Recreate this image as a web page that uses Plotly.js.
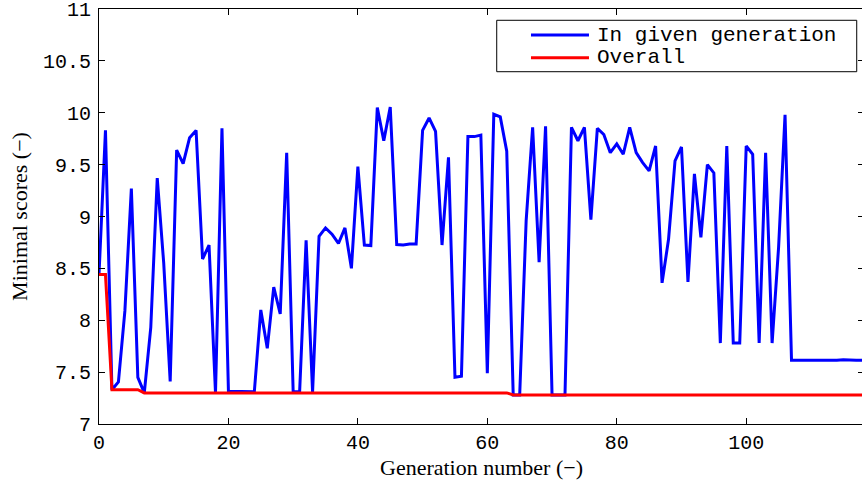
<!DOCTYPE html>
<html>
<head>
<meta charset="utf-8">
<script src="https://cdn.plot.ly/plotly-3.0.1.min.js"></script>
<style>
html, body { margin: 0; padding: 0; overflow: hidden; background: #fff; }
#chart { width: 864px; height: 483px; }
</style>
</head>
<body>
<div id="chart"></div>
<script>
// Generation numbers 0..118
const generations = [
  0,1,2,3,4,5,6,7,8,9,10,11,12,13,14,15,16,17,18,19,
  20,21,22,23,24,25,26,27,28,29,30,31,32,33,34,35,36,37,38,39,
  40,41,42,43,44,45,46,47,48,49,50,51,52,53,54,55,56,57,58,59,
  60,61,62,63,64,65,66,67,68,69,70,71,72,73,74,75,76,77,78,79,
  80,81,82,83,84,85,86,87,88,89,90,91,92,93,94,95,96,97,98,99,
  100,101,102,103,104,105,106,107,108,109,110,111,112,113,114,115,116,117,118
];

// Minimal score in given generation
const inGivenGeneration = [
  8.44, 9.83, 7.33, 7.405, 8.09, 9.27, 7.45, 7.30, 7.93, 9.37,
  8.55, 7.41, 9.64, 9.51, 9.76, 9.83, 8.59, 8.725, 7.30, 9.85,
  7.315, 7.315, 7.31, 7.31, 7.31, 8.10, 7.73, 8.32, 8.06, 9.615,
  7.31, 7.31, 8.77, 7.31, 8.81, 8.89, 8.83, 8.74, 8.89, 8.50,
  9.48, 8.725, 8.72, 10.05, 9.73, 10.055, 8.73, 8.725, 8.735, 8.735,
  9.83, 9.95, 9.82, 8.725, 9.57, 7.45, 7.46, 9.77, 9.77, 9.785,
  7.49, 9.985, 9.96, 9.63, 7.28, 7.28, 8.96, 9.86, 8.56, 9.87,
  7.28, 7.28, 7.28, 9.86, 9.73, 9.86, 8.97, 9.85, 9.79, 9.615,
  9.70, 9.60, 9.86, 9.615, 9.52, 9.44, 9.68, 8.36, 8.78, 9.535,
  9.67, 8.37, 9.41, 8.80, 9.50, 9.42, 7.78, 9.68, 7.78, 7.78,
  9.68, 9.60, 7.78, 9.615, 7.78, 8.70, 9.98, 7.615, 7.615, 7.61,
  7.61, 7.615, 7.615, 7.615, 7.615, 7.62, 7.615, 7.615, 7.615
];

// Overall minimal score so far
const overall = [
  8.44, 8.44, 7.33, 7.33, 7.33, 7.33, 7.33, 7.30, 7.30, 7.30,
  7.30, 7.30, 7.30, 7.30, 7.30, 7.30, 7.30, 7.30, 7.30, 7.30,
  7.30, 7.30, 7.30, 7.30, 7.30, 7.30, 7.30, 7.30, 7.30, 7.30,
  7.30, 7.30, 7.30, 7.30, 7.30, 7.30, 7.30, 7.30, 7.30, 7.30,
  7.30, 7.30, 7.30, 7.30, 7.30, 7.30, 7.30, 7.30, 7.30, 7.30,
  7.30, 7.30, 7.30, 7.30, 7.30, 7.30, 7.30, 7.30, 7.30, 7.30,
  7.30, 7.30, 7.30, 7.30, 7.28, 7.28, 7.28, 7.28, 7.28, 7.28,
  7.28, 7.28, 7.28, 7.28, 7.28, 7.28, 7.28, 7.28, 7.28, 7.28,
  7.28, 7.28, 7.28, 7.28, 7.28, 7.28, 7.28, 7.28, 7.28, 7.28,
  7.28, 7.28, 7.28, 7.28, 7.28, 7.28, 7.28, 7.28, 7.28, 7.28,
  7.28, 7.28, 7.28, 7.28, 7.28, 7.28, 7.28, 7.28, 7.28, 7.28,
  7.28, 7.28, 7.28, 7.28, 7.28, 7.28, 7.28, 7.28, 7.28
];

const seriesNames = ["In given generation", "Overall"];
const seriesColors = ["#0000ff", "#ff0000"];

const xTickVals = [0, 20, 40, 60, 80, 100];
const xTickLabels = ["0", "20", "40", "60", "80", "100"];
const yTickVals = [7, 7.5, 8, 8.5, 9, 9.5, 10, 10.5, 11];
const yTickLabels = ["7", "7.5", "8", "8.5", "9", "9.5", "10", "10.5", "11"];

const monoFont = "Liberation Mono, Courier New, monospace";
const serifFont = "Liberation Serif, Times New Roman, serif";

const traces = [
  {
    x: generations, y: inGivenGeneration, type: "scatter", mode: "lines",
    name: seriesNames[0], line: { color: seriesColors[0], width: 3 }
  },
  {
    x: generations, y: overall, type: "scatter", mode: "lines",
    name: seriesNames[1], line: { color: seriesColors[1], width: 3 }
  }
];

// Hand-built legend (long line samples like the original)
const legendBox = { x0: 0.5199, x1: 0.9905, y0: 0.8489, y1: 0.9728 };
const legendRowsY = [0.9373, 0.8827];
const shapes = [
  { type: "rect", xref: "paper", yref: "paper",
    x0: legendBox.x0, x1: legendBox.x1, y0: legendBox.y0, y1: legendBox.y1,
    line: { color: "#000", width: 1 }, fillcolor: "#fff", layer: "above" }
];
const annotations = [];
seriesNames.forEach((nm, i) => {
  shapes.push({ type: "line", xref: "paper", yref: "paper",
    x0: 0.5647, x1: 0.6405, y0: legendRowsY[i], y1: legendRowsY[i],
    line: { color: seriesColors[i], width: 3 }, layer: "above" });
  annotations.push({ xref: "paper", yref: "paper", x: 0.648, y: legendRowsY[i],
    xanchor: "left", yanchor: "middle", text: nm, showarrow: false,
    font: { family: monoFont, size: 21, color: "#000" } });
});

const layout = {
  width: 864, height: 483,
  margin: { l: 99, r: 0, t: 9, b: 59 },
  paper_bgcolor: "#fff", plot_bgcolor: "#fff",
  showlegend: false,
  xaxis: {
    range: [0, 118.2], tickvals: xTickVals, ticktext: xTickLabels,
    ticks: "inside", ticklen: 6, tickcolor: "#000", tickwidth: 1,
    showline: true, linecolor: "#000", linewidth: 1, mirror: "ticks",
    showgrid: false, zeroline: false, ticklabeloverflow: "allow",
    tickfont: { family: monoFont, size: 20, color: "#000" },
    title: { text: "Generation number (−)", font: { family: serifFont, size: 22, color: "#000" }, standoff: 5 }
  },
  yaxis: {
    range: [7, 11], tickvals: yTickVals, ticktext: yTickLabels,
    ticks: "inside", ticklen: 6, tickcolor: "#000", tickwidth: 1,
    showline: true, linecolor: "#000", linewidth: 1, mirror: "ticks",
    showgrid: false, zeroline: false, ticklabeloverflow: "allow",
    ticklabelstandoff: 3,
    tickfont: { family: monoFont, size: 20, color: "#000" },
    title: { text: "Minimal scores (−)", font: { family: serifFont, size: 22, color: "#000" }, standoff: 9 }
  },
  shapes: shapes,
  annotations: annotations
};

Plotly.newPlot("chart", traces, layout, { staticPlot: true, displayModeBar: false });
</script>
</body>
</html>
